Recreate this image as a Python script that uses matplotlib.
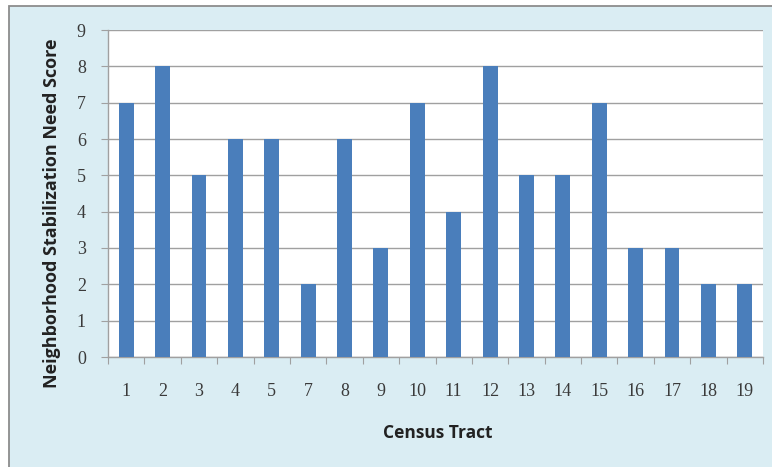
import matplotlib
matplotlib.use("Agg")
import matplotlib.pyplot as plt
from matplotlib.patches import Rectangle

tracts = ["1", "2", "3", "4", "5", "7", "8", "9", "10", "11", "12", "13", "14", "15", "16", "17", "18", "19"]
scores = [7, 8, 5, 6, 6, 2, 6, 3, 7, 4, 8, 5, 5, 7, 3, 3, 2, 2]
yticks = list(range(0, 10))

W, H = 772, 467
fig = plt.figure(figsize=(W / 100, H / 100), dpi=100)
fig.patch.set_facecolor("white")

# outer chart area with border
bg = Rectangle((9 / W, -0.05), 1.0, 1 - 6 / H + 0.05, transform=fig.transFigure,
               facecolor="#DAEDF3", edgecolor="#8C8C8C", linewidth=1.3, zorder=-1)
fig.patches.append(bg)

left, right, top, bottom = 108, 763, 30, 357
ax = fig.add_axes([left / W, 1 - bottom / H, (right - left) / W, (bottom - top) / H])
ax.set_zorder(2)
ax.set_facecolor("white")

x = list(range(len(tracts)))
ax.bar(x, scores, width=0.41, color="#4A7EBB", zorder=3)

ax.set_xlim(-0.5, len(tracts) - 0.5)
ax.set_ylim(0, 9)
ax.set_yticks(yticks)
ax.yaxis.grid(True, color="#A0A0A0", linewidth=1.0, zorder=1)
ax.set_axisbelow(True)

ax.set_xticks([i + 0.5 for i in range(-1, len(tracts))], minor=False)
ax.set_xticklabels([])
ax.set_xticks(x, minor=True)
ax.set_xticklabels(tracts, minor=True, fontfamily="Liberation Serif", fontsize=13, color="#3A3A3A")
ax.tick_params(axis="x", which="major", length=5, color="#A0A0A0", direction="out")
ax.tick_params(axis="x", which="minor", length=0, pad=19)
ax.tick_params(axis="y", length=5, color="#A0A0A0", direction="out", pad=11,
               labelsize=13, labelcolor="#3A3A3A")
for lab in ax.get_yticklabels():
    lab.set_fontfamily("Liberation Serif")

for s in ["top", "right"]:
    ax.spines[s].set_visible(False)
for s in ["left", "bottom"]:
    ax.spines[s].set_color("#A0A0A0")
    ax.spines[s].set_linewidth(1.0)

fig.text(52 / W, 1 - 213 / H, "Neighborhood Stabilization Need Score", rotation=90,
         ha="center", va="center", fontsize=13, fontweight="bold",
         fontfamily="Open Sans", color="#222222")
fig.text(438 / W, 1 - 433 / H, "Census Tract", ha="center", va="center",
         fontsize=12.5, fontweight="bold", fontfamily="Open Sans",
         color="#222222")

fig.savefig("out.png", dpi=100)
